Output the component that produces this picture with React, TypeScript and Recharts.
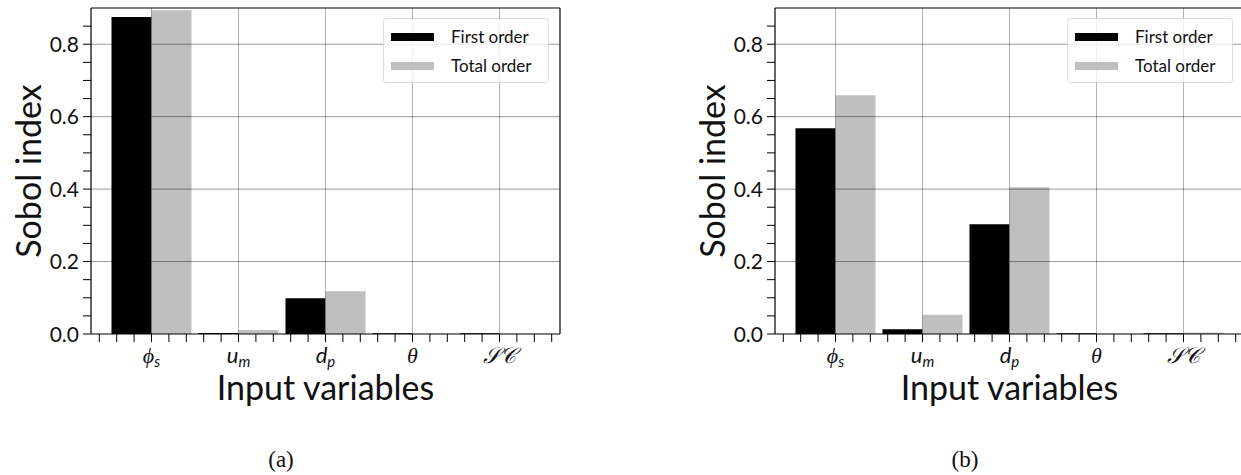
import { Bar, BarChart, Legend, ReferenceLine, XAxis, YAxis } from "recharts";

// Sobol indices per input variable, panel (a) and panel (b)
const categories = ["phi_s", "u_m", "d_p", "theta", "SC"];
const positions = [0, 1, 2, 3, 4];
const firstOrderA = [0.875, 0.003, 0.099, 0.002, 0.002];
const totalOrderA = [0.894, 0.011, 0.118, 0.001, 0.001];
const firstOrderB = [0.568, 0.013, 0.303, 0.002, 0.002];
const totalOrderB = [0.659, 0.053, 0.405, 0.001, 0.004];

const yTicks = [0, 0.05, 0.1, 0.15, 0.2, 0.25, 0.3, 0.35, 0.4, 0.45, 0.5, 0.55, 0.6, 0.65, 0.7, 0.75, 0.8, 0.85];
const yGrid = [0.2, 0.4, 0.6, 0.8];
const xMinorTicks = [
  -0.6, -0.4, -0.2, 0, 0.2, 0.4, 0.6, 0.8, 1, 1.2, 1.4, 1.6, 1.8, 2, 2.2, 2.4, 2.6, 2.8, 3, 3.2, 3.4, 3.6, 3.8, 4,
  4.2, 4.4, 4.6,
];

const W = 580;
const H = 420;
const MARGIN = { top: 8, right: 20, left: 0, bottom: 22 };
const Y_AXIS_W = 91;
const X_PAD = 17;
const BAND = (W - MARGIN.right - Y_AXIS_W - 2 * X_PAD) / categories.length;
const X_DOMAIN: [number, number] = [-0.5 - X_PAD / BAND, categories.length - 0.5 + X_PAD / BAND];
const Y_MAX = 0.9;

const SANS = "Lato, 'Open Sans', sans-serif";
const SERIF = "'Liberation Serif', 'DejaVu Serif', serif";
const INK = "#111";

function YTick(props: any) {
  const { x, y, payload } = props;
  const v = payload.value as number;
  if (Math.abs(v * 5 - Math.round(v * 5)) > 1e-6) return <g />;
  return (
    <text x={x} y={y} dy="0.36em" textAnchor="end" fontFamily={SANS} fontSize={21} fill={INK}>
      {v.toFixed(1)}
    </text>
  );
}

function catLabel(name: string) {
  const sub = { fontFamily: SANS, fontStyle: "italic", fontSize: 15 } as const;
  switch (name) {
    case "phi_s":
      return (
        <>
          <tspan fontFamily={SERIF} fontStyle="italic">ϕ</tspan>
          <tspan {...sub} dy={4}>s</tspan>
        </>
      );
    case "u_m":
      return (
        <>
          <tspan fontFamily={SANS} fontStyle="italic">u</tspan>
          <tspan {...sub} dy={4}>m</tspan>
        </>
      );
    case "d_p":
      return (
        <>
          <tspan fontFamily={SANS} fontStyle="italic">d</tspan>
          <tspan {...sub} dy={4}>p</tspan>
        </>
      );
    case "theta":
      return (
        <tspan fontFamily={SERIF} fontStyle="italic">θ</tspan>
      );
    default:
      return (
        <tspan fontFamily={SERIF} fontStyle="italic">𝒮𝒞</tspan>
      );
  }
}

function XTick(props: any) {
  const { x, y, payload } = props;
  const v = payload.value as number;
  const i = Math.round(v);
  if (Math.abs(v - i) > 1e-6 || i < 0 || i >= categories.length) return <g />;
  return (
    <text x={x} y={y + 19} textAnchor="middle" fontSize={22} fill={INK}>
      {catLabel(categories[i])}
    </text>
  );
}

function LegendBox(props: any) {
  const items = (props.payload || []) as { value: string; color: string }[];
  return (
    <div
      style={{
        width: 166,
        height: 65,
        boxSizing: "border-box",
        border: "1px solid rgba(0,0,0,0.13)",
        borderRadius: 4,
        background: "rgba(255,255,255,0.8)",
        paddingTop: 3,
        fontFamily: SANS,
        fontSize: 17,
        color: INK,
      }}
    >
      {items.map((it) => (
        <div key={it.value} style={{ display: "flex", alignItems: "center", height: 29 }}>
          <span
            style={{ flexShrink: 0, width: 43, height: 8, background: it.color, marginLeft: 7, marginRight: 17 }}
          />
          {it.value}
        </div>
      ))}
    </div>
  );
}

function SobolPanel({ first, total, caption }: { first: number[]; total: number[]; caption: string }) {
  const data = categories.map((name, i) => ({ name, pos: positions[i], first: first[i], total: total[i] }));
  return (
    <div style={{ position: "absolute", top: 0, width: W, height: 475 }}>
      <BarChart width={W} height={H} data={data} margin={MARGIN} barCategoryGap="4%" barGap={0}>
        <XAxis xAxisId="cat" dataKey="name" hide height={0} padding={{ left: X_PAD, right: X_PAD }} />
        <XAxis
          xAxisId="num"
          dataKey="pos"
          type="number"
          domain={X_DOMAIN}
          allowDataOverflow
          ticks={xMinorTicks}
          interval={0}
          height={64}
          tickSize={8}
          tickMargin={2}
          tick={<XTick />}
          axisLine={{ stroke: "#000", strokeWidth: 1.2 }}
          tickLine={{ stroke: "#000", strokeWidth: 1 }}
          label={{ value: "Input variables", position: "insideBottom", offset: -2, fontFamily: SANS, fontSize: 34, fill: INK }}
        />
        <YAxis
          domain={[0, Y_MAX]}
          allowDataOverflow
          ticks={yTicks}
          interval={0}
          width={Y_AXIS_W}
          tickSize={8}
          tickMargin={4}
          tick={<YTick />}
          axisLine={{ stroke: "#000", strokeWidth: 1.2 }}
          tickLine={{ stroke: "#000", strokeWidth: 1 }}
          label={{
            value: "Sobol index",
            angle: -90,
            position: "insideLeft",
            offset: 29,
            fontFamily: SANS,
            fontSize: 34,
            fill: INK,
            style: { textAnchor: "middle" },
          }}
        />
        <Bar xAxisId="cat" dataKey="first" name="First order" fill="#000" isAnimationActive={false} />
        <Bar xAxisId="cat" dataKey="total" name="Total order" fill="#bfbfbf" isAnimationActive={false} />
        {yGrid.map((v) => (
          <ReferenceLine key={`h${v}`} xAxisId="num" y={v} stroke="#000" strokeOpacity={0.4} strokeWidth={1} />
        ))}
        {positions.map((p) => (
          <ReferenceLine key={`v${p}`} xAxisId="num" x={p} stroke="#000" strokeOpacity={0.3} strokeWidth={1} />
        ))}
        <ReferenceLine xAxisId="num" y={Y_MAX} stroke="#000" strokeWidth={1.2} />
        <ReferenceLine xAxisId="num" x={X_DOMAIN[1]} stroke="#000" strokeWidth={1.2} />
        <Legend
          layout="horizontal"
          verticalAlign="middle"
          align="center"
          content={<LegendBox />}
          wrapperStyle={{ left: 383, top: 18, width: "auto" }}
        />
      </BarChart>
      <div
        style={{
          position: "absolute",
          left: 241,
          width: 80,
          top: 449,
          textAlign: "center",
          fontFamily: SERIF,
          fontSize: 23,
          lineHeight: "22px",
          color: INK,
        }}
      >
        {caption}
      </div>
    </div>
  );
}

export default function App() {
  return (
    <div
      style={{
        position: "fixed",
        left: 0,
        top: 0,
        width: 1241,
        height: 475,
        overflow: "hidden",
        background: "#fff",
      }}
    >
      <div style={{ position: "absolute", left: 0, top: 0 }}>
        <SobolPanel first={firstOrderA} total={totalOrderA} caption="(a)" />
      </div>
      <div style={{ position: "absolute", left: 684, top: 0 }}>
        <SobolPanel first={firstOrderB} total={totalOrderB} caption="(b)" />
      </div>
    </div>
  );
}
